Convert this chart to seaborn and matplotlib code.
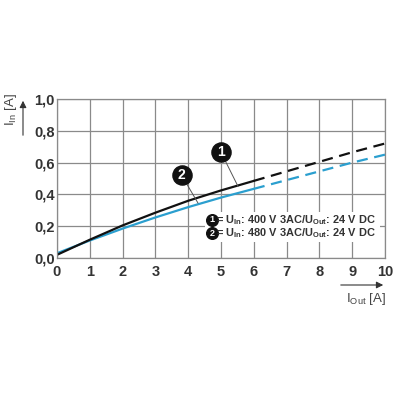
import seaborn as sns
import matplotlib
matplotlib.use("Agg")
import matplotlib.pyplot as plt
import pandas as pd

# ------------------------------- Data ----------------------------------------------

i_out = [0, 1, 2, 3, 4, 5, 6, 7, 8, 9, 10]
i_in_400 = [0.02, 0.115, 0.205, 0.285, 0.36, 0.425, 0.485, 0.545, 0.605, 0.665, 0.72]
i_in_480 = [0.03, 0.11, 0.185, 0.255, 0.32, 0.38, 0.435, 0.49, 0.545, 0.60, 0.65]
solid_until = 6  # measured range, rest is dashed

x_ticks = [0, 1, 2, 3, 4, 5, 6, 7, 8, 9, 10]
y_ticks = [0.0, 0.2, 0.4, 0.6, 0.8, 1.0]
y_tick_labels = ["0,0", "0,2", "0,4", "0,6", "0,8", "1,0"]

legend_lines = [r"= U$_{\mathbf{In}}$: 400 V 3AC/U$_{\mathbf{Out}}$: 24 V DC",
                r"= U$_{\mathbf{In}}$: 480 V 3AC/U$_{\mathbf{Out}}$: 24 V DC"]

BLACK = "#111111"
BLUE = "#2b9fcf"
TXT = "#333333"

# ------------------------------- Plot ----------------------------------------------

sns.set_theme(style="white")
plt.rcParams["font.family"] = ["Liberation Sans", "DejaVu Sans"]
plt.rcParams["mathtext.fontset"] = "custom"
plt.rcParams["mathtext.rm"] = "Liberation Sans"
plt.rcParams["mathtext.bf"] = "Liberation Sans:bold"

df = pd.DataFrame({"x": i_out, "c400": i_in_400, "c480": i_in_480})
solid = df[df["x"] <= solid_until]
dashed = df[df["x"] >= solid_until]

fig = plt.figure(figsize=(4, 4), dpi=100)
ax = fig.add_axes([57 / 400, 1 - 258 / 400, 328 / 400, 159 / 400])

sns.lineplot(data=solid, x="x", y="c480", color=BLUE, lw=1.6, ax=ax)
sns.lineplot(data=dashed, x="x", y="c480", color=BLUE, lw=1.6, ax=ax, linestyle=(0, (5, 3)))
sns.lineplot(data=solid, x="x", y="c400", color=BLACK, lw=1.6, ax=ax)
sns.lineplot(data=dashed, x="x", y="c400", color=BLACK, lw=1.6, ax=ax, linestyle=(0, (5, 3)))

ax.set_xlim(0, 10)
ax.set_ylim(0, 1.0)
ax.set_xticks(x_ticks)
ax.set_xticklabels([str(t) for t in x_ticks])
ax.set_yticks(y_ticks)
ax.set_yticklabels(y_tick_labels)
ax.set_xlabel("")
ax.set_ylabel("")
ax.tick_params(length=0, labelsize=10.5, labelcolor=TXT)
ax.tick_params(axis="x", pad=5)
ax.tick_params(axis="y", pad=1.5)
for lbl in ax.get_xticklabels() + ax.get_yticklabels():
    lbl.set_fontweight("bold")
ax.grid(True, color="#8a8a8a", lw=0.9)
for s in ax.spines.values():
    s.set_color("#8a8a8a")
    s.set_linewidth(0.9)

# callouts
for num, (cx, cy), (px, py) in [("1", (5.0, 0.665), (5.52, 0.45)), ("2", (3.8, 0.52), (4.3, 0.345))]:
    ax.plot([cx, px], [cy, py], color="#555555", lw=0.7, zorder=4)
    ax.scatter([cx], [cy], s=190, color=BLACK, zorder=5)
    ax.text(cx, cy, num, color="white", fontsize=10, fontweight="bold", ha="center", va="center", zorder=6)

# legend block
ax.add_patch(plt.Rectangle((4.5, 0.10), 5.35, 0.19, facecolor="white", edgecolor="none", zorder=2.5))
for k, (txt, yy) in enumerate(zip(legend_lines, [0.24, 0.155])):
    ax.scatter([4.73], [yy], s=70, color=BLACK, zorder=5)
    ax.text(4.73, yy, str(k + 1), color="white", fontsize=6.5, fontweight="bold", ha="center", va="center", zorder=6)
    ax.text(4.86, yy, txt, color=TXT, fontsize=7.9, fontweight="bold", ha="left", va="center", zorder=6)

# axis labels with arrows
fig.text(11 / 400, 1 - 110 / 400, r"I$_{\mathrm{In}}$ [A]", rotation=90, ha="center", va="center",
         fontsize=9.5, color="#444444")
ax.annotate("", xy=(23 / 400, 1 - 98 / 400), xytext=(23 / 400, 1 - 138 / 400),
            xycoords="figure fraction", textcoords="figure fraction",
            arrowprops=dict(arrowstyle="-|>", color="#333333", lw=0.8, mutation_scale=10))
fig.text(366 / 400, 1 - 299 / 400, r"I$_{\mathrm{Out}}$ [A]", ha="center", va="center",
         fontsize=9.5, color="#444444")
ax.annotate("", xy=(386 / 400, 1 - 285 / 400), xytext=(338 / 400, 1 - 285 / 400),
            xycoords="figure fraction", textcoords="figure fraction",
            arrowprops=dict(arrowstyle="-|>", color="#333333", lw=0.8, mutation_scale=10))

plt.savefig("out.png", dpi=100, facecolor="white")
plt.close()
